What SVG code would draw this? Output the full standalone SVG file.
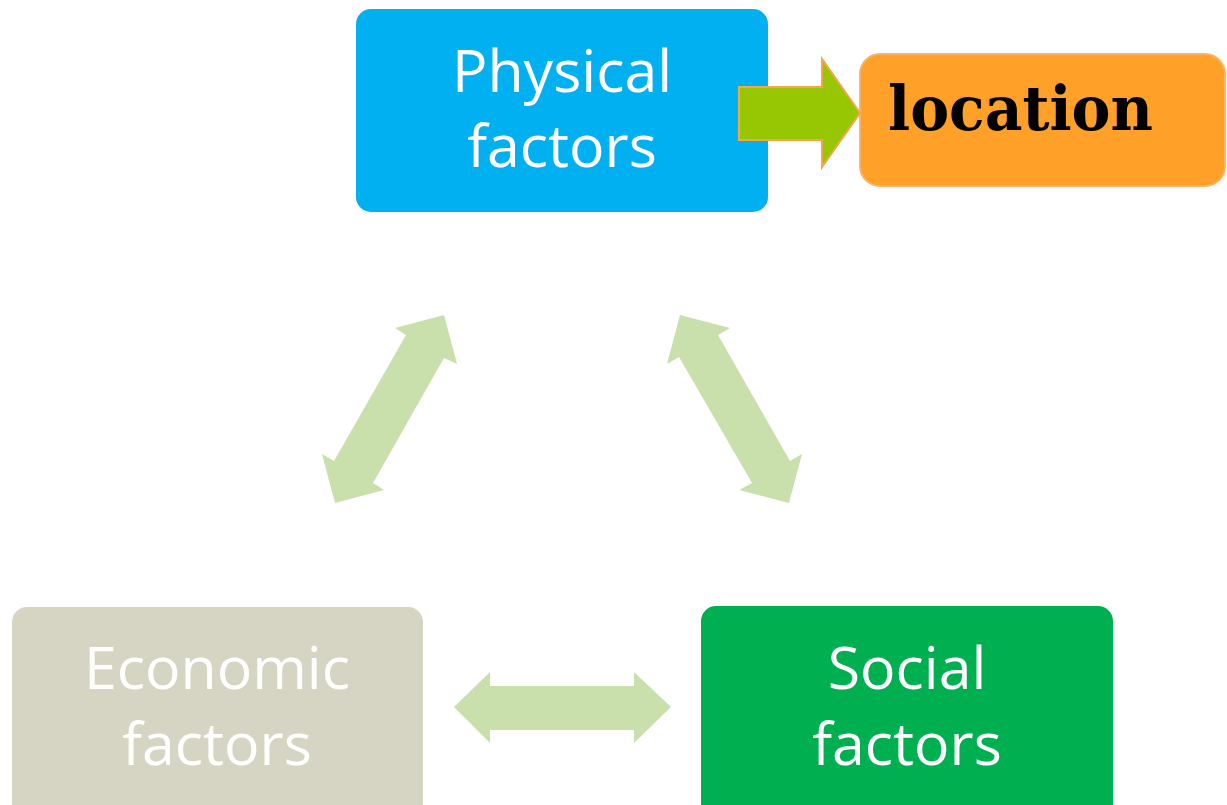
<svg xmlns="http://www.w3.org/2000/svg" width="1227" height="805" viewBox="0 0 1227 805">
<style>
.lbl{font-family:"Open Sans","Noto Sans","Liberation Sans",sans-serif;font-size:59px;fill:#ffffff;text-anchor:middle}
.dbl{fill:#C9E0AD}
</style>
<rect width="1227" height="805" fill="#ffffff"/>
<g id="physical">
<rect x="356" y="9" width="412" height="203" rx="15" fill="#00B0F0"/>
<text class="lbl" x="562" y="92">Physical</text>
<text class="lbl" x="562" y="167">factors</text>
</g>
<g id="location">
<rect x="860" y="54" width="365" height="132" rx="20" fill="#FFA028" stroke="#F9B467" stroke-width="2"/>
<text x="888" y="130" font-family="DejaVu Serif,serif" font-weight="bold" font-size="61" fill="#000000" textLength="265" lengthAdjust="spacingAndGlyphs">location</text>
</g>
<g id="economic">
<rect x="12" y="607" width="411" height="215" rx="15" fill="#D6D5C4"/>
<text class="lbl" x="217" y="689">Economic</text>
<text class="lbl" x="217" y="765">factors</text>
</g>
<g id="social">
<rect x="701" y="606" width="412" height="216" rx="15" fill="#00AF50"/>
<text class="lbl" x="907" y="689">Social</text>
<text class="lbl" x="907" y="765">factors</text>
</g>
<g id="connectors">
<polygon class="dbl" points="444,315 457,364 444,358 373,483 384,490 335,503 322,454 334,461 406,335 395,328"/>
<polygon class="dbl" points="680,315 730,328 718,335 790,461 802,454 789,503 739,490 752,483 679,357 667,364"/>
<polygon class="dbl" points="454,707 490,672 490,686 634,686 634,672 671,707 634,743 634,730 490,730 490,743"/>
<polygon points="739,87 822,87 822,59 860,113 822,167 822,140 739,140" fill="#97C702" stroke="#F5A64A" stroke-width="2"/>
</g>
</svg>
